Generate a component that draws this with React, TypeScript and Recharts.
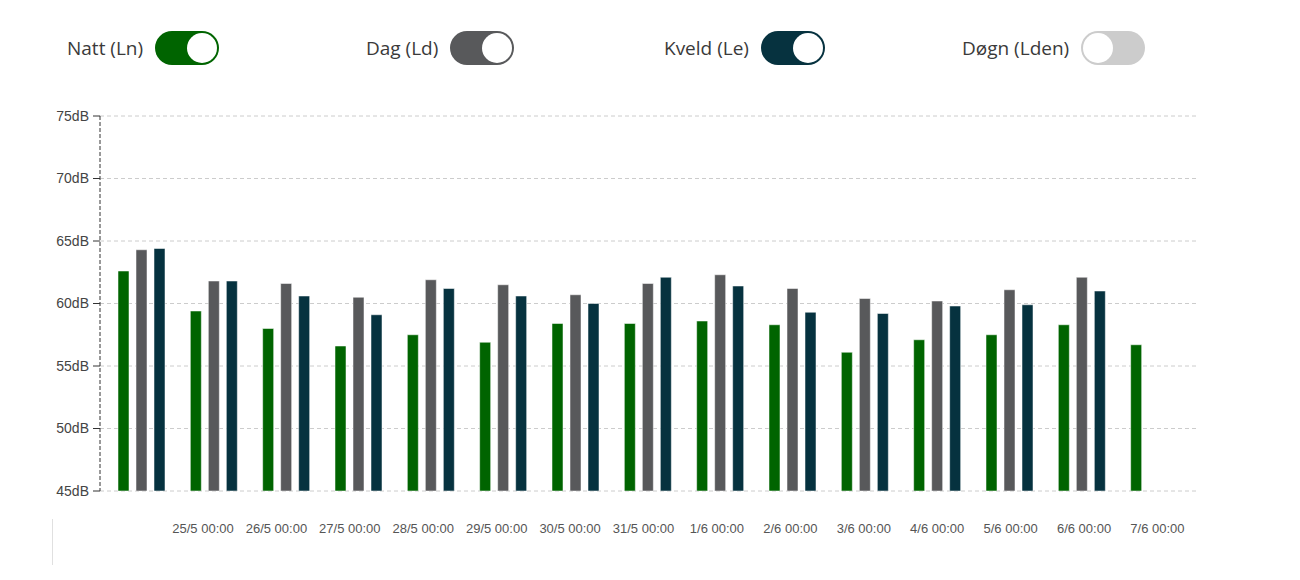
import React from "react";
import { BarChart, Bar, XAxis, YAxis, CartesianGrid } from "recharts";

const DAYS = [
  "", "25/5 00:00", "26/5 00:00", "27/5 00:00", "28/5 00:00", "29/5 00:00", "30/5 00:00",
  "31/5 00:00", "1/6 00:00", "2/6 00:00", "3/6 00:00", "4/6 00:00", "5/6 00:00", "6/6 00:00", "7/6 00:00",
];
const NATT = [62.6, 59.4, 58.0, 56.6, 57.5, 56.9, 58.4, 58.4, 58.6, 58.3, 56.1, 57.1, 57.5, 58.3, 56.7];
const DAG = [64.3, 61.8, 61.6, 60.5, 61.9, 61.5, 60.7, 61.6, 62.3, 61.2, 60.4, 60.2, 61.1, 62.1, null];
const KVELD = [64.4, 61.8, 60.6, 59.1, 61.2, 60.6, 60.0, 62.1, 61.4, 59.3, 59.2, 59.8, 59.9, 61.0, null];
const Y_TICKS = [45, 50, 55, 60, 65, 70, 75];
// the date labels sit on their own time-like axis, slightly wider spaced than the bar groups
const LABEL_TICKS = [0, 1, 2, 3, 4, 5, 6, 7, 8, 9, 10, 11, 12, 13, 14];

const TOGGLES = [
  { label: "Natt (Ln)", color: "#006400", on: true },
  { label: "Dag (Ld)", color: "#58595b", on: true },
  { label: "Kveld (Le)", color: "#06323f", on: true },
  { label: "Døgn (Lden)", color: "#cccccc", on: false },
];
const TOGGLE_LEFT = [67, 366, 664, 962];

const data = DAYS.map((day, i) => ({
  idx: i,
  day,
  natt: NATT[i],
  dag: DAG[i],
  kveld: KVELD[i],
}));

function Toggle({ label, color, on, left }: { label: string; color: string; on: boolean; left: number }) {
  return (
    <div style={{ position: "absolute", left, top: 31, height: 34, display: "flex", alignItems: "center" }}>
      <span style={{ fontFamily: "'Open Sans', sans-serif", fontSize: 19, color: "#3a3a3a", marginRight: 12, whiteSpace: "nowrap" }}>
        {label}
      </span>
      <div style={{ position: "relative", width: 64, height: 34, borderRadius: 17, background: color }}>
        <div
          style={{
            position: "absolute",
            top: 2,
            left: on ? 32 : 2,
            width: 30,
            height: 30,
            borderRadius: "50%",
            background: "#fff",
          }}
        />
      </div>
    </div>
  );
}

export default function App() {
  return (
    <div style={{ position: "absolute", left: 0, top: 0, width: 1300, height: 580, background: "#fff", overflow: "hidden" }}>
      {TOGGLES.map((t, i) => (
        <Toggle key={t.label} {...t} left={TOGGLE_LEFT[i]} />
      ))}
      <div style={{ position: "absolute", left: 52, top: 519, width: 1, height: 46, background: "#e0e0e0" }} />
      <div style={{ position: "absolute", left: 0, top: 0 }}>
        <BarChart
          width={1300}
          height={580}
          data={data}
          margin={{ top: 116, right: 104, bottom: 59, left: 0 }}
          barSize={11}
          barGap={7}
        >
          <CartesianGrid vertical={false} stroke="#cccccc" strokeDasharray="4 3" />
          <XAxis
            dataKey="day"
            height={0}
            tick={false}
            axisLine={false}
            tickLine={false}
            padding={{ left: 5, right: 6 }}
          />
          <XAxis
            xAxisId="lbl"
            dataKey="idx"
            type="number"
            domain={[-0.403, 14.525]}
            allowDataOverflow
            ticks={LABEL_TICKS}
            interval={0}
            tickFormatter={(v: number) => DAYS[v] ?? ""}
            axisLine={false}
            tickLine={false}
            tickSize={6}
            tickMargin={27}
            tick={{ fill: "#555", fontSize: 13, fontFamily: "'Liberation Sans', Arial, sans-serif" }}
          />
          <YAxis
            width={100}
            domain={[45, 75]}
            ticks={Y_TICKS}
            allowDataOverflow
            tickFormatter={(v: number) => `${v}dB`}
            axisLine={{ stroke: "#333", strokeDasharray: "4 2" }}
            tickLine={{ stroke: "#333" }}
            tickSize={7}
            tickMargin={4}
            tick={{ fill: "#444", fontSize: 14, fontFamily: "'Liberation Sans', Arial, sans-serif" }}
          />
          <Bar dataKey="natt" fill="#006400" stroke="rgba(255,255,255,0.5)" isAnimationActive={false} />
          <Bar dataKey="dag" fill="#58595b" stroke="rgba(255,255,255,0.5)" isAnimationActive={false} />
          <Bar dataKey="kveld" fill="#06323f" stroke="rgba(255,255,255,0.5)" isAnimationActive={false} />
        </BarChart>
      </div>
    </div>
  );
}
